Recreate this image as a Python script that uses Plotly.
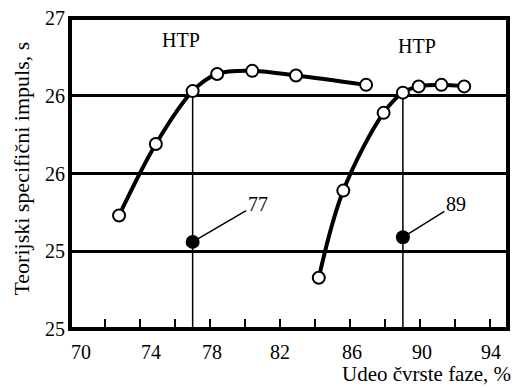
import plotly.graph_objects as go

# Data
s1_x = [72.8, 74.9, 77.0, 78.4, 80.4, 82.9, 86.9]
s1_y = [25.73, 26.19, 26.53, 26.64, 26.66, 26.63, 26.57]
s2_x = [84.2, 85.6, 87.9, 89.0, 89.9, 91.2, 92.5]
s2_y = [25.33, 25.89, 26.39, 26.52, 26.56, 26.57, 26.56]
opt_x = [77, 89]
opt_y = [25.56, 25.59]
opt_labels = ["77", "89"]
htp_x = [76.35, 89.78]
htp_y = [26.86, 26.82]
y_tickvals = [25, 25.5, 26, 26.5, 27]
y_ticktext = ["25", "25", "26", "26", "27"]
x_tickvals = [70, 74, 78, 82, 86, 90, 94]
x_ticktext = ["70", "74", "78", "82", "86", "90", "94"]

# styling / positional offsets (pixels)
x_label_shift = [11, 11, 2, 0, 2, 2, 1]
opt_label_offset = [(65, -38), (53, -33)]

FONT = "Liberation Serif"
W, H = 515, 389
ML, MR, MT, MB = 70, 7, 13, 60
PW, PH = W - ML - MR, H - MT - MB

def px(x):
    return (x - ML) / PW

def py(y):
    return (MT + PH - y) / PH

fig = go.Figure()

# vertical reference lines at the marked compositions
for xv, xs, ys in [(opt_x[0], s1_x, s1_y), (opt_x[1], s2_x, s2_y)]:
    i = min(range(len(xs)), key=lambda k: abs(xs[k] - xv))
    fig.add_trace(go.Scatter(x=[xv, xv], y=[25, ys[i]], mode="lines",
                             line=dict(color="black", width=1.5),
                             hoverinfo="skip", showlegend=False))

for xs, ys in [(s1_x, s1_y), (s2_x, s2_y)]:
    fig.add_trace(go.Scatter(x=xs, y=ys, mode="lines+markers",
                             line=dict(color="black", width=4, shape="spline", smoothing=1),
                             marker=dict(size=12, color="white", line=dict(color="black", width=2)),
                             showlegend=False))

fig.add_trace(go.Scatter(x=opt_x, y=opt_y, mode="markers",
                         marker=dict(size=14, color="black"), showlegend=False))

for xv, yv, t, (ax, ay) in zip(opt_x, opt_y, opt_labels, opt_label_offset):
    fig.add_annotation(x=xv, y=yv, text=t, showarrow=True, arrowhead=0,
                       arrowwidth=1.5, arrowcolor="black", ax=ax, ay=ay,
                       standoff=5, font=dict(family=FONT, size=20, color="black"),
                       xanchor="center", yanchor="middle")

for xv, yv in zip(htp_x, htp_y):
    fig.add_annotation(x=xv, y=yv, text="HTP", showarrow=False,
                       font=dict(family=FONT, size=20, color="black"))

# x tick labels
for xv, t, sh in zip(x_tickvals, x_ticktext, x_label_shift):
    fig.add_annotation(x=xv, xref="x", yref="paper", y=py(352), text=t,
                       showarrow=False, xshift=sh, xanchor="center", yanchor="middle",
                       font=dict(family=FONT, size=20, color="black"))

fig.add_annotation(xref="paper", yref="paper", x=px(513), y=py(375),
                   text="Udeo čvrste faze, %", showarrow=False,
                   xanchor="right", yanchor="middle",
                   font=dict(family=FONT, size=21, color="black"))
fig.add_annotation(xref="paper", yref="paper", x=px(22), y=py(166),
                   text="Teorijski specifični impuls, s", showarrow=False,
                   textangle=-90, xanchor="center", yanchor="middle",
                   font=dict(family=FONT, size=22, color="black"))

fig.add_shape(type="rect", xref="paper", yref="paper", x0=0, y0=0, x1=1, y1=1,
              line=dict(color="black", width=4), layer="above")

fig.update_xaxes(range=[70, 95], tickvals=x_tickvals, ticks="inside", ticklen=10,
                 tickwidth=2, tickcolor="black", showgrid=False, zeroline=False,
                 showline=False, showticklabels=False,
                 minor=dict(tickvals=list(range(72, 95, 4)), ticks="inside", ticklen=10,
                            tickwidth=2, tickcolor="black", showgrid=False))
fig.update_yaxes(range=[25, 27], tickvals=y_tickvals, ticktext=y_ticktext,
                 ticks="", showgrid=True, gridcolor="black", gridwidth=2.5,
                 zeroline=False, showline=False, ticklabelstandoff=4,
                 tickfont=dict(family=FONT, size=20, color="black"))

fig.update_layout(width=W, height=H, margin=dict(l=ML, r=MR, t=MT, b=MB),
                  plot_bgcolor="white", paper_bgcolor="white",
                  font=dict(family=FONT, size=20, color="black"))

fig.write_html("out.html")
